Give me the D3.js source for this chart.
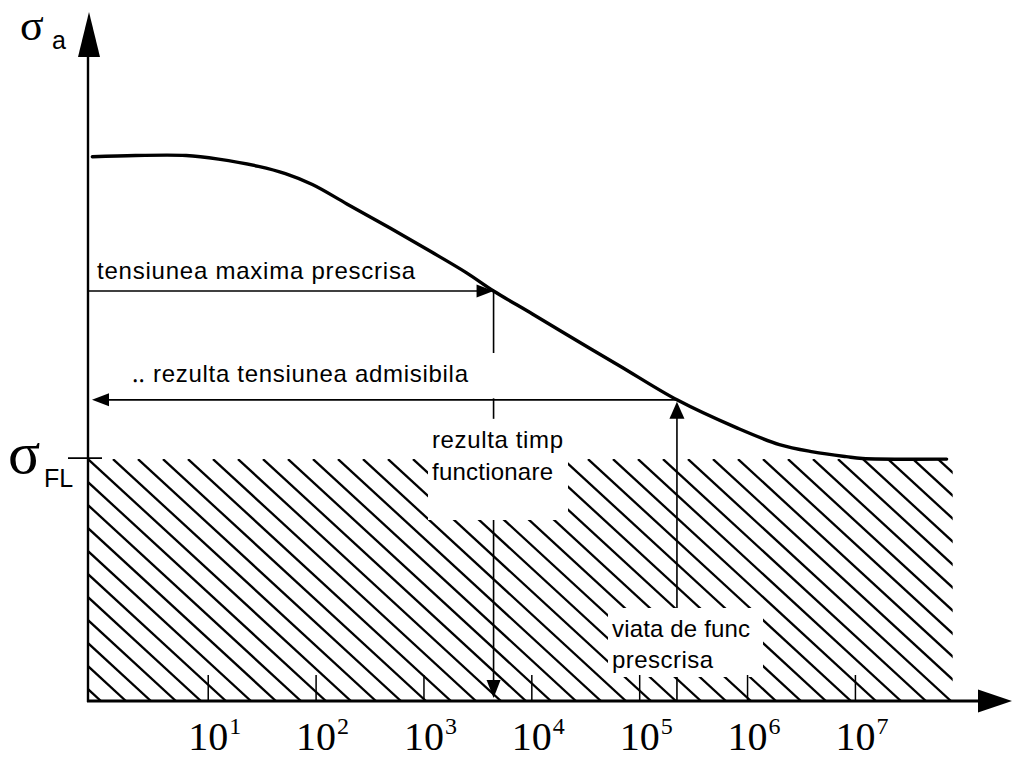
<!DOCTYPE html>
<html>
<head>
<meta charset="utf-8">
<script src="https://cdn.jsdelivr.net/npm/d3@7"></script>
<style>
  html, body { margin: 0; padding: 0; background: #fff; }
  svg { display: block; }
</style>
</head>
<body>
<svg id="chart" width="1012" height="759"></svg>
<script>
// Wöhler (S–N) curve: stress amplitude against log10 of the number of cycles
const logN   = [-0.07, 0.33, 0.80, 1.10, 1.47, 1.72, 1.97, 2.29, 2.69, 3.06, 3.40, 3.65,
                4.01, 4.42, 4.82, 5.35, 5.90, 6.30, 6.61, 6.92, 7.07, 7.85];
const sigmaA = [450, 451, 451, 448, 442, 436, 427, 411, 391, 372, 354, 339,
                320, 298, 277, 249, 226, 212, 206, 202, 200.5, 200];

// endurance (fatigue) limit
const sigmaFL = 200;

// decade ticks on the cycles axis
const tickExponents = [1, 2, 3, 4, 5, 6, 7];
const tickBase = "10";

// design case 1: prescribed maximum stress -> resulting operating time
const maxStressLogN = 3.65;
const maxStress = 339;
// design case 2: prescribed service life -> resulting admissible stress
const lifeLogN = 5.35;
const lifeStress = 249;

// annotation texts
const txtMaxStress  = "tensiunea maxima prescrisa";
const txtAdmissible = "‥ rezulta tensiunea admisibila";
const txtTime       = ["rezulta timp", "functionare"];
const txtLife       = ["viata de func", "prescrisa"];

const svg = d3.select("#chart");
const W = 1012, H = 759;

const x = d3.scaleLinear().domain([-0.11, 7.9]).range([88, 952]);
const y = d3.scaleLinear().domain([0, 568]).range([701, 14]);

const x0 = x.range()[0];      // vertical axis position
const yBase = y(0);           // horizontal axis position
const xEnd = x(7.86);         // right end of the curve / hatched band

const black = "#000";
const sans = "'Liberation Sans', Arial, Helvetica, sans-serif";
const serif = "'Liberation Serif', 'Times New Roman', serif";

function arrowHead(g, tipX, tipY, dir, len, half) {
  // dir: 'right' | 'left' | 'up' | 'down'
  let pts;
  if (dir === "right") pts = [[tipX, tipY], [tipX - len, tipY - half], [tipX - len, tipY + half]];
  if (dir === "left")  pts = [[tipX, tipY], [tipX + len, tipY - half], [tipX + len, tipY + half]];
  if (dir === "up")    pts = [[tipX, tipY], [tipX - half, tipY + len], [tipX + half, tipY + len]];
  if (dir === "down")  pts = [[tipX, tipY], [tipX - half, tipY - len], [tipX + half, tipY - len]];
  g.append("polygon").attr("points", pts.map(p => p.join(",")).join(" ")).attr("fill", black);
}

// ---- hatched band below the endurance limit ----
const defs = svg.append("defs");
defs.append("clipPath").attr("id", "band")
  .append("rect")
  .attr("x", x0).attr("y", y(sigmaFL))
  .attr("width", xEnd + 5 - x0).attr("height", yBase - y(sigmaFL));

const hatch = svg.append("g").attr("clip-path", "url(#band)");
const bandH = yBase - y(sigmaFL);
const slope = 0.92, step = 25;
const run = bandH / slope;
for (let xs = x0 - Math.ceil(run / step) * step; xs <= xEnd + 5; xs += step) {
  hatch.append("line")
    .attr("x1", xs).attr("y1", y(sigmaFL))
    .attr("x2", xs + run).attr("y2", yBase)
    .attr("stroke", black).attr("stroke-width", 2.3);
}

// ---- vertical construction lines ----
const lines = svg.append("g");
// from the prescribed stress point down to the cycles axis
lines.append("line")
  .attr("x1", x(maxStressLogN)).attr("y1", y(maxStress))
  .attr("x2", x(maxStressLogN)).attr("y2", yBase - 10)
  .attr("stroke", black).attr("stroke-width", 1.6);
arrowHead(lines, x(maxStressLogN), yBase - 3, "down", 18, 7);
// from the prescribed life up to the curve
lines.append("line")
  .attr("x1", x(lifeLogN)).attr("y1", yBase)
  .attr("x2", x(lifeLogN)).attr("y2", y(lifeStress) + 10)
  .attr("stroke", black).attr("stroke-width", 1.6);

// ---- white boxes behind the labels ----
const boxes = svg.append("g");
function labelBox(x1, y1, x2, y2) {
  boxes.append("rect").attr("x", x1).attr("y", y1)
    .attr("width", x2 - x1).attr("height", y2 - y1).attr("fill", "#fff");
}
labelBox(120, 353, 505, y(lifeStress) - 1.5);
labelBox(428, y(lifeStress) + 19, 568, 520);
labelBox(608, 608, 763, 677);

// ticks on the cycles axis (pointing up into the band)
const axisG = svg.append("g").attr("transform", `translate(0,${yBase})`);
axisG.call(d3.axisBottom(x).tickValues(tickExponents).tickSizeInner(-26).tickSizeOuter(0).tickPadding(0));
axisG.select(".domain").remove();
axisG.selectAll(".tick line").attr("stroke", black).attr("stroke-width", 1.5);
axisG.selectAll(".tick text").each(function (d) {
  const t = d3.select(this);
  t.text(null).attr("dy", null).attr("y", 49)
    .attr("font-family", serif).attr("font-size", 40).attr("fill", black)
    .attr("text-anchor", "start");
  const base = t.append("tspan").text(tickBase);
  t.append("tspan").text(d).attr("font-size", 24).attr("dy", -16).attr("dx", 1);
  const w = base.node().getComputedTextLength();
  t.attr("x", -w / 2);
});

// ---- horizontal arrows ----
const arrows = svg.append("g");
arrows.append("line")
  .attr("x1", x0).attr("y1", y(maxStress))
  .attr("x2", x(maxStressLogN) - 12).attr("y2", y(maxStress))
  .attr("stroke", black).attr("stroke-width", 1.6);
arrowHead(arrows, x(maxStressLogN), y(maxStress), "right", 17, 6.5);

arrows.append("line")
  .attr("x1", x(lifeLogN)).attr("y1", y(lifeStress))
  .attr("x2", x0 + 16).attr("y2", y(lifeStress))
  .attr("stroke", black).attr("stroke-width", 1.6);
arrowHead(arrows, x0 + 4, y(lifeStress), "left", 17, 6.5);
arrowHead(arrows, x(lifeLogN), y(lifeStress) + 2, "up", 17, 7.5);

// ---- axes with arrowheads ----
const axes = svg.append("g");
axes.append("line")
  .attr("x1", x0).attr("y1", yBase + 1)
  .attr("x2", x0).attr("y2", 50)
  .attr("stroke", black).attr("stroke-width", 2.4);
arrowHead(axes, x0 + 1, 12, "up", 45, 11);
axes.append("line")
  .attr("x1", x0 - 1).attr("y1", yBase)
  .attr("x2", W - 30).attr("y2", yBase)
  .attr("stroke", black).attr("stroke-width", 3);
arrowHead(axes, W, yBase, "right", 34, 11.5);

// endurance limit mark on the stress axis
axes.append("line")
  .attr("x1", 68).attr("y1", y(sigmaFL) - 1)
  .attr("x2", 102).attr("y2", y(sigmaFL) - 1)
  .attr("stroke", black).attr("stroke-width", 1.6);

// ---- S–N curve ----
const pts = logN.map((n, i) => [n, sigmaA[i]]);
svg.append("path")
  .datum(pts)
  .attr("d", d3.line().x(d => x(d[0])).y(d => y(d[1])).curve(d3.curveCatmullRom.alpha(0.5)))
  .attr("fill", "none").attr("stroke", black).attr("stroke-width", 3.4)
  .attr("stroke-linecap", "round");

// ---- axis symbols ----
const sym = svg.append("g").attr("fill", black);
sym.append("text").attr("x", 20).attr("y", 40).attr("font-family", serif).attr("font-size", 44).text("σ");
sym.append("text").attr("x", 52).attr("y", 49).attr("font-family", sans).attr("font-size", 25).text("a");

sym.append("text").attr("x", 8).attr("y", 473).attr("font-family", serif).attr("font-size", 60).text("σ");
sym.append("text").attr("x", 44).attr("y", 487).attr("font-family", sans).attr("font-size", 25).text("FL");

// ---- annotation labels ----
const lab = svg.append("g").attr("font-family", sans).attr("font-size", 24).attr("fill", black);
lab.append("text").attr("x", 97).attr("y", 279)
  .attr("textLength", 318).attr("lengthAdjust", "spacing").text(txtMaxStress);
lab.append("text").attr("x", 132).attr("y", 382)
  .attr("textLength", 336).attr("lengthAdjust", "spacing").text(txtAdmissible);
lab.append("text").attr("x", 432).attr("y", 448)
  .attr("textLength", 131).attr("lengthAdjust", "spacing").text(txtTime[0]);
lab.append("text").attr("x", 432).attr("y", 480)
  .attr("textLength", 121).attr("lengthAdjust", "spacing").text(txtTime[1]);
lab.append("text").attr("x", 612).attr("y", 637)
  .attr("textLength", 138).attr("lengthAdjust", "spacing").text(txtLife[0]);
lab.append("text").attr("x", 612).attr("y", 668)
  .attr("textLength", 101).attr("lengthAdjust", "spacing").text(txtLife[1]);
</script>
</body>
</html>
